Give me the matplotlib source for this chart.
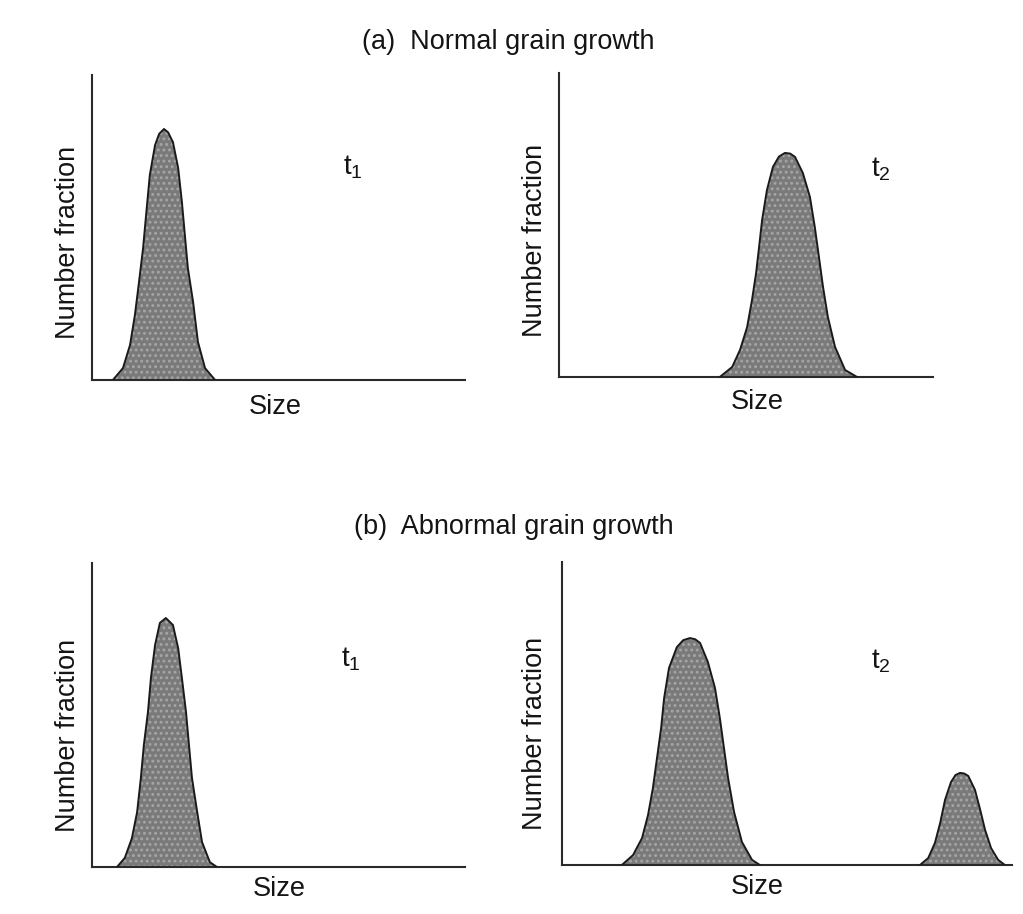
import matplotlib.pyplot as plt

plt.rcParams['font.family'] = ['Liberation Sans', 'DejaVu Sans']
plt.rcParams['mathtext.fontset'] = 'custom'
plt.rcParams['mathtext.rm'] = 'Liberation Sans'
plt.rcParams['hatch.linewidth'] = 1.3

# size distributions (x: size units, y: number fraction)
a_t1_x = [5.6, 8.3, 10.2, 11.5, 12.6, 13.7, 14.5, 15.5, 16.9, 18.0, 19.3, 20.4, 21.7, 23.1, 24.1, 24.9, 25.7, 27.1, 28.4, 30.3, 33.0]
a_t1_y = [0, 0.039, 0.115, 0.213, 0.321, 0.433, 0.541, 0.672, 0.770, 0.807, 0.823, 0.812, 0.780, 0.695, 0.584, 0.475, 0.367, 0.256, 0.125, 0.039, 0]

a_t2_x = [43.0, 46.3, 48.4, 50.3, 51.6, 52.7, 53.5, 54.3, 55.6, 57.2, 58.8, 60.4, 61.8, 63.1, 65.2, 67.1, 68.4, 69.5, 70.6, 71.9, 73.8, 76.5, 79.7]
a_t2_y = [0, 0.033, 0.089, 0.164, 0.253, 0.342, 0.428, 0.516, 0.615, 0.691, 0.725, 0.737, 0.735, 0.724, 0.671, 0.592, 0.493, 0.395, 0.296, 0.197, 0.099, 0.023, 0]

b_t1_x = [6.7, 8.8, 10.7, 12.1, 13.1, 13.9, 15.0, 15.8, 16.9, 18.2, 19.8, 21.7, 23.1, 24.1, 25.2, 26.0, 26.8, 28.2, 29.5, 31.6, 33.5]
b_t1_y = [0, 0.030, 0.095, 0.181, 0.293, 0.401, 0.510, 0.622, 0.730, 0.803, 0.819, 0.796, 0.720, 0.622, 0.510, 0.401, 0.293, 0.181, 0.082, 0.016, 0]

b_t2_x = [16.0, 19.0, 21.4, 23.0, 24.3, 25.4, 26.5, 27.3, 28.6, 30.7, 32.4, 34.2, 35.6, 36.9, 39.0, 40.9, 42.2, 43.3, 44.4, 46.0, 48.1, 50.8, 52.9]
b_t2_y = [0, 0.033, 0.089, 0.165, 0.254, 0.353, 0.452, 0.551, 0.650, 0.719, 0.742, 0.749, 0.745, 0.733, 0.670, 0.584, 0.485, 0.386, 0.287, 0.175, 0.076, 0.017, 0]

b_t2_small_x = [95.7, 97.9, 99.7, 101.1, 102.4, 104.0, 105.2, 106.4, 107.5, 108.6, 110.4, 111.8, 113.1, 114.7, 116.6, 118.4]
b_t2_small_y = [0, 0.023, 0.073, 0.139, 0.215, 0.274, 0.297, 0.304, 0.302, 0.294, 0.248, 0.182, 0.116, 0.056, 0.017, 0]

W, H = 1023, 914
fig = plt.figure(figsize=(W / 100, H / 100), dpi=100)


def px_axes(x0, y_top, x1, y_bot):
    return fig.add_axes([x0 / W, 1 - y_bot / H, (x1 - x0) / W, (y_bot - y_top) / H])


def draw_peak(ax, xs, ys):
    ax.fill_between(xs, ys, 0, facecolor='#7a7a7a', edgecolor='#a6a6a6',
                    hatch='...', linewidth=0, zorder=2)
    ax.plot(xs, ys, color='#1a1a1a', lw=1.4, zorder=3)


def style(ax, xmax):
    ax.set_xlim(0, xmax)
    ax.set_ylim(0, 1)
    ax.set_xticks([])
    ax.set_yticks([])
    for s in ['top', 'right']:
        ax.spines[s].set_visible(False)
    for s in ['left', 'bottom']:
        ax.spines[s].set_color('#2a2a2a')
        ax.spines[s].set_linewidth(1.5)
    ax.patch.set_alpha(0)


panels = [
    (px_axes(92, 75, 465, 380), 100, [(a_t1_x, a_t1_y)]),
    (px_axes(559, 73, 933, 377), 100, [(a_t2_x, a_t2_y)]),
    (px_axes(92, 563, 465, 867), 100, [(b_t1_x, b_t1_y)]),
    (px_axes(562, 562, 1012, 865), 120.3, [(b_t2_x, b_t2_y), (b_t2_small_x, b_t2_small_y)]),
]
for ax, xmax, peaks in panels:
    style(ax, xmax)
    for xs, ys in peaks:
        draw_peak(ax, xs, ys)

fs = 19.5
c = '#141414'


def ftext(x, y, s, **kw):
    fig.text(x / W, 1 - y / H, s, fontsize=kw.pop('fontsize', fs), color=c,
             ha='center', va='center', **kw)


ftext(508, 42, '(a)  Normal grain growth')
ftext(514, 527, '(b)  Abnormal grain growth')

for x, y in [(68, 242), (535, 240), (68, 735), (535, 733)]:
    ftext(x, y, 'Number fraction', rotation=90)

for x, y in [(275, 407), (757, 402), (279, 889), (757, 887)]:
    ftext(x, y, 'Size')

ftext(353, 167, 't$_{1}$', fontsize=20)
ftext(881, 169, 't$_{2}$', fontsize=20)
ftext(351, 659, 't$_{1}$', fontsize=20)
ftext(881, 661, 't$_{2}$', fontsize=20)

plt.savefig('out.png', dpi=100)
plt.close()
